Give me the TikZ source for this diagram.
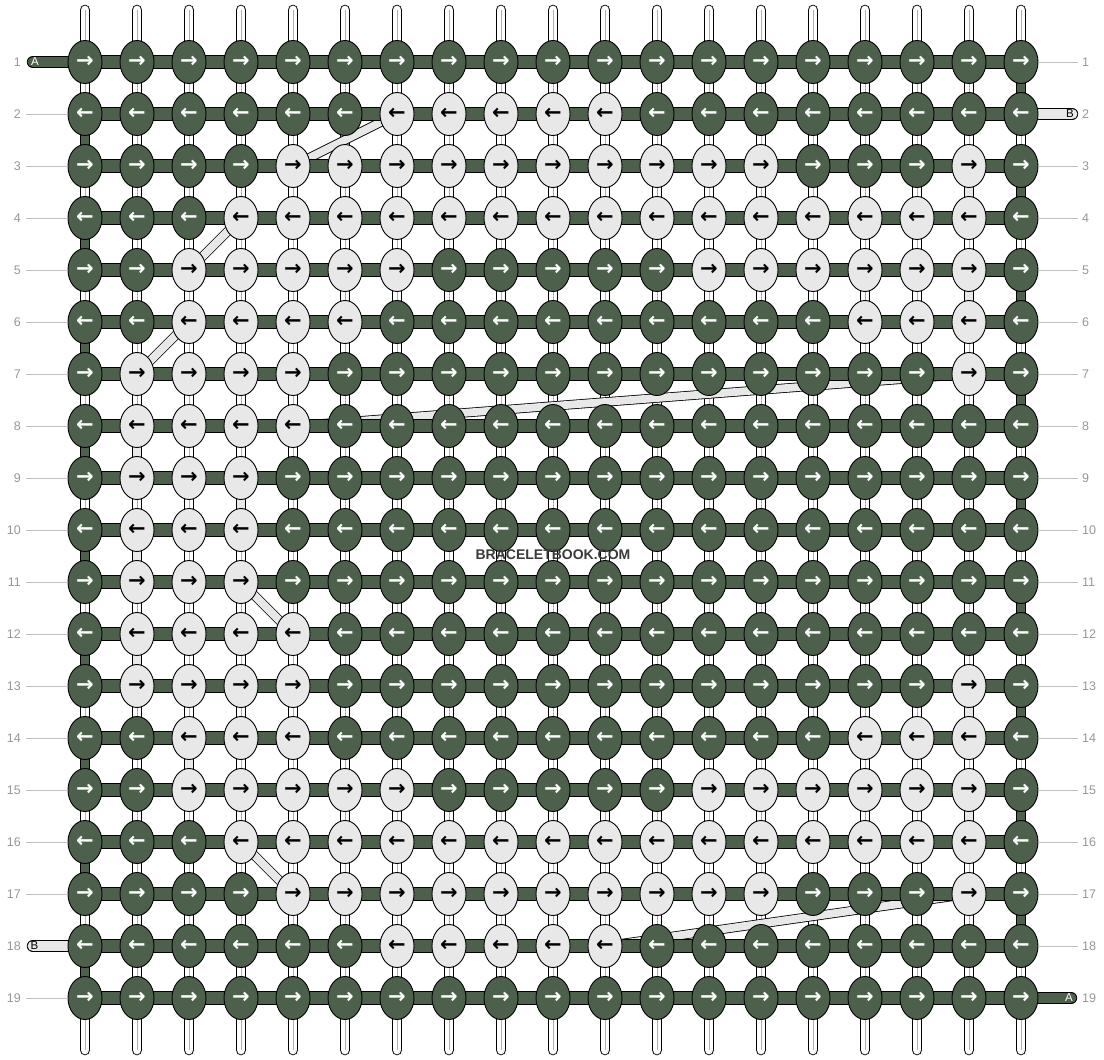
\documentclass[tikz,border=0pt]{standalone}
\usepackage{fontspec}
\setmainfont{Liberation Sans}
\newfontfamily\arrowfont{DejaVu Sans}
\usetikzlibrary{shapes.geometric,calc}
\pgfdeclarelayer{bg}
\pgfsetlayers{bg,main}
\definecolor{dk}{RGB}{76,96,76}
\definecolor{lt}{RGB}{232,232,232}
\definecolor{labgray}{RGB}{150,150,150}
\definecolor{linegray}{RGB}{192,192,192}
\definecolor{stripe}{RGB}{175,175,175}
\definecolor{wmark}{RGB}{58,58,58}
\newcommand\setrow[2]{\expandafter\def\csname Lrow#1\endcsname{,#2,}}
\setrow{1}{}
\setrow{2}{7,8,9,10,11}
\setrow{3}{5,6,7,8,9,10,11,12,13,14,18}
\setrow{4}{4,5,6,7,8,9,10,11,12,13,14,15,16,17,18}
\setrow{5}{3,4,5,6,7,13,14,15,16,17,18}
\setrow{6}{3,4,5,6,16,17,18}
\setrow{7}{2,3,4,5,18}
\setrow{8}{2,3,4,5}
\setrow{9}{2,3,4}
\setrow{10}{2,3,4}
\setrow{11}{2,3,4}
\setrow{12}{2,3,4,5}
\setrow{13}{2,3,4,5,18}
\setrow{14}{3,4,5,16,17,18}
\setrow{15}{3,4,5,6,7,13,14,15,16,17,18}
\setrow{16}{4,5,6,7,8,9,10,11,12,13,14,15,16,17,18}
\setrow{17}{5,6,7,8,9,10,11,12,13,14,18}
\setrow{18}{7,8,9,10,11}
\setrow{19}{}
\makeatletter
\newcommand\knotsetup[2]{%
  \edef\kn@tmp{\noexpand\in@{,#2,}{\csname Lrow#1\endcsname}}\kn@tmp
  \ifin@\def\kst{lknot}\else\def\kst{dknot}\fi
  \ifodd#1\relax\def\arr{→}\else\def\arr{←}\fi}
\makeatother
\newcommand\solidseg[3]{%
  \draw[line width=10.6pt,black] (#2) -- (#3);
  \draw[line width=8.8pt,#1] (#2) -- (#3);}
\newcommand\diagseg[2]{%
  \draw[line width=9.4pt,black] (#1) -- (#2);
  \draw[line width=7.8pt,lt] (#1) -- (#2);}
\begin{document}
\begin{tikzpicture}[x=1pt,y=-1pt,
  knot/.style={ellipse,draw=black,line width=0.9pt,minimum width=34pt,minimum height=43pt,inner sep=0pt,font=\arrowfont\bfseries\fontsize{21}{21}\selectfont},
  dknot/.style={knot,fill=dk,text=white},
  lknot/.style={knot,fill=lt,text=black},
  lab/.style={text=labgray,font=\fontsize{12.5}{12.5}\selectfont,inner sep=0pt},
  labline/.style={draw=linegray,line width=0.8pt},
  pilltext/.style={font=\fontsize{11.5}{11.5}\selectfont,inner sep=0pt},
  pillout/.style={line width=12.4pt,black,line cap=round},
  pillin/.style={line width=10.8pt,line cap=round}
]
\useasboundingbox (0,0) rectangle (1104,1060);
% knots
\foreach \r in {1,...,19}{
  \foreach \c in {1,...,19}{
    \knotsetup{\r}{\c}
    \node[\kst] (k-\r-\c) at ({85+52*(\c-1)},{62+52*(\r-1)}) {\arr};
  }
}
% row labels
\foreach \r in {1,...,19}{
  \node[lab,anchor=east] (ll-\r) at ($(k-\r-1.center)+(-64,0)$) {\r};
  \node[lab,anchor=west] (rl-\r) at ($(k-\r-19.center)+(61,0)$) {\r};
}
\foreach \r in {2,3,4,5,6,7,8,9,10,11,12,13,14,15,16,17,19}{
  \draw[labline] ($(ll-\r.east)+(5,0)$) -- (k-\r-1.west);
}
\foreach \r in {1,3,4,5,6,7,8,9,10,11,12,13,14,15,16,17,18}{
  \draw[labline] (k-\r-19.east) -- ($(rl-\r.west)+(-4,0)$);
}
% pill labels
\node[pilltext,text=white] (ta1) at (35,62) {A};
\node[pilltext,text=black] (tb2) at (1070,114) {B};
\node[pilltext,text=black] (tb18) at (34.5,946) {B};
\node[pilltext,text=white] (ta19) at (1069,998) {A};
% watermark
\node[font=\bfseries\fontsize{14}{14}\selectfont,text=wmark,inner sep=0pt] (wm) at (553,555) {BRACELETBOOK.COM};
\begin{pgfonlayer}{bg}
  % vertical strings
  \foreach \c in {1,...,19}{
    \coordinate (top-\c) at ($(k-1-\c.center)+(0,-52)$);
    \coordinate (bot-\c) at ($(k-19-\c.center)+(0,52)$);
    \draw[line width=10.6pt,line cap=round,black] (top-\c) -- (bot-\c);
    \draw[line width=8.8pt,line cap=round,white] (top-\c) -- (bot-\c);
    \draw[line width=0.7pt,stripe] (top-\c) -- (bot-\c);
  }
  % dark turns at the edges
  \foreach \a/\b in {2/3,4/5,6/7,8/9,10/11,12/13,14/15,16/17,18/19}{
    \solidseg{dk}{k-\a-1.center}{k-\b-1.center}
  }
  \foreach \a/\b in {1/2,3/4,5/6,7/8,9/10,11/12,13/14,15/16,17/18}{
    \solidseg{dk}{k-\a-19.center}{k-\b-19.center}
  }
  % light turns
  \foreach \a/\b/\c in {3/4/18,5/6/18,13/14/18,15/16/18,8/9/2,10/11/2,12/13/2,9/10/4,14/15/3}{
    \solidseg{lt}{k-\a-\c.center}{k-\b-\c.center}
  }
  % light diagonal moves
  \diagseg{k-2-7.center}{k-3-5.center}
  \diagseg{k-4-4.center}{k-5-3.center}
  \diagseg{k-6-3.center}{k-7-2.center}
  \diagseg{k-7-18.center}{k-8-5.center}
  \diagseg{k-11-4.center}{k-12-5.center}
  \diagseg{k-16-4.center}{k-17-5.center}
  \diagseg{k-17-18.center}{k-18-11.center}
  % horizontal strings
  \foreach \r in {1,...,19}{
    \draw[line width=13.4pt,black] (k-\r-1.center) -- (k-\r-19.center);
    \draw[line width=11.6pt,dk] (k-\r-1.center) -- (k-\r-19.center);
  }
  % end pills
  \coordinate (pa1) at ($(k-1-1.center)+(-52,0)$);
  \coordinate (pb2) at ($(k-2-19.center)+(51,0)$);
  \coordinate (pb18) at ($(k-18-1.center)+(-52,0)$);
  \coordinate (pa19) at ($(k-19-19.center)+(50,0)$);
  \draw[pillout] (pa1) -- (k-1-1.center);   \draw[pillin,dk] (pa1) -- (k-1-1.center);
  \draw[pillout] (pb2) -- (k-2-19.center);  \draw[pillin,lt] (pb2) -- (k-2-19.center);
  \draw[pillout] (pb18) -- (k-18-1.center); \draw[pillin,lt] (pb18) -- (k-18-1.center);
  \draw[pillout] (pa19) -- (k-19-19.center);\draw[pillin,dk] (pa19) -- (k-19-19.center);
\end{pgfonlayer}
\end{tikzpicture}
\end{document}
